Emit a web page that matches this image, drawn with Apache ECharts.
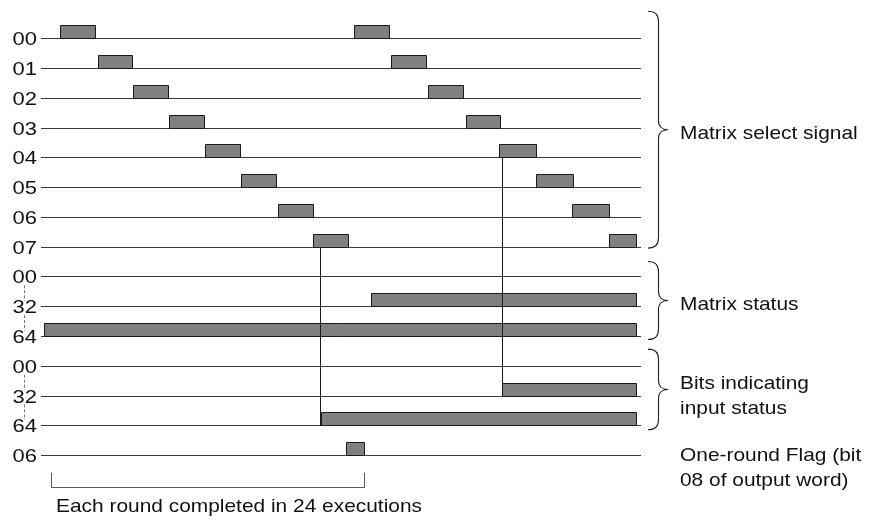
<!DOCTYPE html>
<html>
<head>
<meta charset="utf-8">
<script src="https://cdn.jsdelivr.net/npm/echarts@6/dist/echarts.min.js"></script>
<style>
  html, body { margin: 0; padding: 0; background: #fff; }
  #main { width: 875px; height: 520px; }
</style>
</head>
<body>
<div id="main"></div>
<script>
const chart = echarts.init(document.getElementById('main'));

// row labels, top to bottom
const rowLabels = ['00', '01', '02', '03', '04', '05', '06', '07', '00', '32', '64', '00', '32', '64', '06'];
const lineStart = 0, lineEnd = 600;

// [row, start, end] on the time scale
const selectPulses = [
  [0, 19, 54], [0, 313, 348],
  [1, 57, 91], [1, 350, 385],
  [2, 92, 127], [2, 387, 422],
  [3, 128, 163], [3, 425, 459],
  [4, 164, 199], [4, 458, 495],
  [5, 200, 235], [5, 495, 532],
  [6, 237, 272], [6, 531, 568],
  [7, 272, 307], [7, 568, 595]
];
const statusBars = [[9, 330, 595], [10, 3, 595]];
const inputBars = [[12, 461, 595], [13, 280, 595]];
const flagPulse = [[14, 305, 323]];

// [time, fromRow, toRow]
const links = [[279.7, 7, 13], [461.3, 4, 12]];

// dashed joins between bit labels [fromRow, toRow]
const labelJoins = [[8, 9], [9, 10], [11, 12], [12, 13]];

const braceNames = ['Matrix select signal', 'Matrix status', 'Bits indicating\ninput status'];
const braceSpans = [[-0.92, 7.03], [7.48, 10.1], [10.42, 13.13]];
const flagNote = 'One-round Flag (bit\n08 of output word)';

// one round: [start, end, topRow, bottomRow]
const roundBracket = [[10.7, 323.3, 14.57, 15.08]];
const roundText = 'Each round completed in 24 executions';

const FONT = 'Liberation Sans, Arial, Helvetica, sans-serif';
const crisp = v => Math.round(v - 0.5) + 0.5;

function renderBox(params, api) {
  const row = api.value(0);
  const p0 = api.coord([api.value(1), row]);
  const p1 = api.coord([api.value(2), row]);
  const h = api.size([0, 1])[1] * 0.44;
  const x = crisp(p0[0]), y = crisp(p0[1]);
  return {
    type: 'rect',
    shape: { x: x, y: y - Math.round(h), width: Math.round(p1[0] - p0[0]), height: Math.round(h) },
    style: { fill: '#808080', stroke: '#1a1a1a', lineWidth: 1 }
  };
}

function boxSeries(name, data) {
  return { name: name, type: 'custom', renderItem: renderBox, data: data, z: 3 };
}

const option = {
  animation: false,
  backgroundColor: '#fff',
  grid: { left: 41, width: 600, top: 8.9, height: 506.4 },
  xAxis: { type: 'value', min: 0, max: 600, show: false },
  yAxis: {
    type: 'value', inverse: true, min: -1, max: 16, interval: 1,
    axisLine: { show: false }, axisTick: { show: false }, splitLine: { show: false },
    axisLabel: { show: false }
  },
  series: [
    {
      // row baselines with their bit labels
      name: 'rows', type: 'custom', z: 2,
      data: rowLabels.map((l, i) => ({ name: l, value: [i, lineStart, lineEnd] })),
      renderItem: (params, api) => {
        const p0 = api.coord([api.value(1), api.value(0)]);
        const p1 = api.coord([api.value(2), api.value(0)]);
        const y = crisp(p0[1]);
        return {
          type: 'group',
          children: [
            { type: 'line', shape: { x1: p0[0], y1: y, x2: p1[0], y2: y }, style: { stroke: '#3a3a3a', lineWidth: 1 } },
            {
              type: 'text', x: p0[0] - 4, y: y + 1.5, scaleX: 1.22,
              style: { text: rowLabels[params.dataIndex], font: '18px ' + FONT, fill: '#111', align: 'right', verticalAlign: 'middle' }
            }
          ]
        };
      }
    },
    boxSeries('Matrix select signal', selectPulses),
    boxSeries('Matrix status', statusBars),
    boxSeries('Bits indicating input status', inputBars),
    boxSeries('One-round Flag', flagPulse),
    {
      name: 'links', type: 'custom', z: 4, data: links,
      renderItem: (params, api) => {
        const p0 = api.coord([api.value(0), api.value(1)]);
        const p1 = api.coord([api.value(0), api.value(2)]);
        const x = crisp(p0[0]);
        return { type: 'line', shape: { x1: x, y1: p0[1], x2: x, y2: p1[1] }, style: { stroke: '#1a1a1a', lineWidth: 1 } };
      }
    },
    {
      name: 'joins', type: 'custom', z: 1, data: labelJoins,
      renderItem: (params, api) => {
        const p0 = api.coord([-16.7, api.value(0) + 0.28]);
        const p1 = api.coord([-16.7, api.value(1) - 0.2]);
        const x = crisp(p0[0]);
        return { type: 'line', shape: { x1: x, y1: p0[1], x2: x, y2: p1[1] }, style: { stroke: '#777', lineWidth: 1, lineDash: [3, 2] } };
      }
    },
    {
      name: 'braces', type: 'custom', z: 2,
      data: braceSpans.map((s, i) => ({ name: braceNames[i], value: s })),
      renderItem: (params, api) => {
        const a = api.coord([607, api.value(0)]);
        const b = api.coord([607, api.value(1)]);
        const x0 = a[0];
        const x1 = api.coord([617, 0])[0] + 0.5;
        const xt = api.coord([627, 0])[0];
        const top = a[1], bot = b[1], mid = (top + bot) / 2;
        const path = `M${x0},${top} C${x0 + 6},${top} ${x1},${top + 3} ${x1},${top + 10} ` +
          `L${x1},${mid - 9} C${x1},${mid - 3} ${x1 + 4},${mid} ${xt},${mid} ` +
          `C${x1 + 4},${mid} ${x1},${mid + 3} ${x1},${mid + 9} ` +
          `L${x1},${bot - 10} C${x1},${bot - 3} ${x0 + 6},${bot} ${x0},${bot}`;
        const name = braceNames[params.dataIndex];
        const lines = name.split('\n').length;
        return {
          type: 'group',
          children: [
            { type: 'path', shape: { pathData: path }, style: { fill: 'none', stroke: '#222', lineWidth: 1.1 } },
            {
              type: 'text', x: xt + 12, y: mid + (lines > 1 ? 7 : 4), scaleX: 1.1,
              style: { text: name, font: '19px ' + FONT, fill: '#111', verticalAlign: 'middle', lineHeight: 25 }
            }
          ]
        };
      }
    },
    {
      name: 'flag note', type: 'custom', z: 2, data: [[639, 14]],
      renderItem: (params, api) => {
        const p = api.coord([api.value(0), api.value(1)]);
        return {
          type: 'text', x: p[0], y: p[1] + 12.5, scaleX: 1.1,
          style: { text: flagNote, font: '19px ' + FONT, fill: '#111', verticalAlign: 'middle', lineHeight: 25 }
        };
      }
    },
    {
      name: 'round', type: 'custom', z: 2, data: roundBracket,
      renderItem: (params, api) => {
        const a = api.coord([api.value(0), api.value(2)]);
        const b = api.coord([api.value(1), api.value(3)]);
        const xa = crisp(a[0]), xb = crisp(b[0]), yt = a[1], yb = crisp(b[1]);
        return {
          type: 'group',
          children: [
            { type: 'polyline', shape: { points: [[xa, yt], [xa, yb], [xb, yb], [xb, yt]] }, style: { fill: 'none', stroke: '#555', lineWidth: 1 } },
            {
              type: 'text', x: api.coord([15, 0])[0], y: yb + 19, scaleX: 1.1,
              style: { text: roundText, font: '19px ' + FONT, fill: '#111', verticalAlign: 'middle' }
            }
          ]
        };
      }
    }
  ]
};

chart.setOption(option);
</script>
</body>
</html>
